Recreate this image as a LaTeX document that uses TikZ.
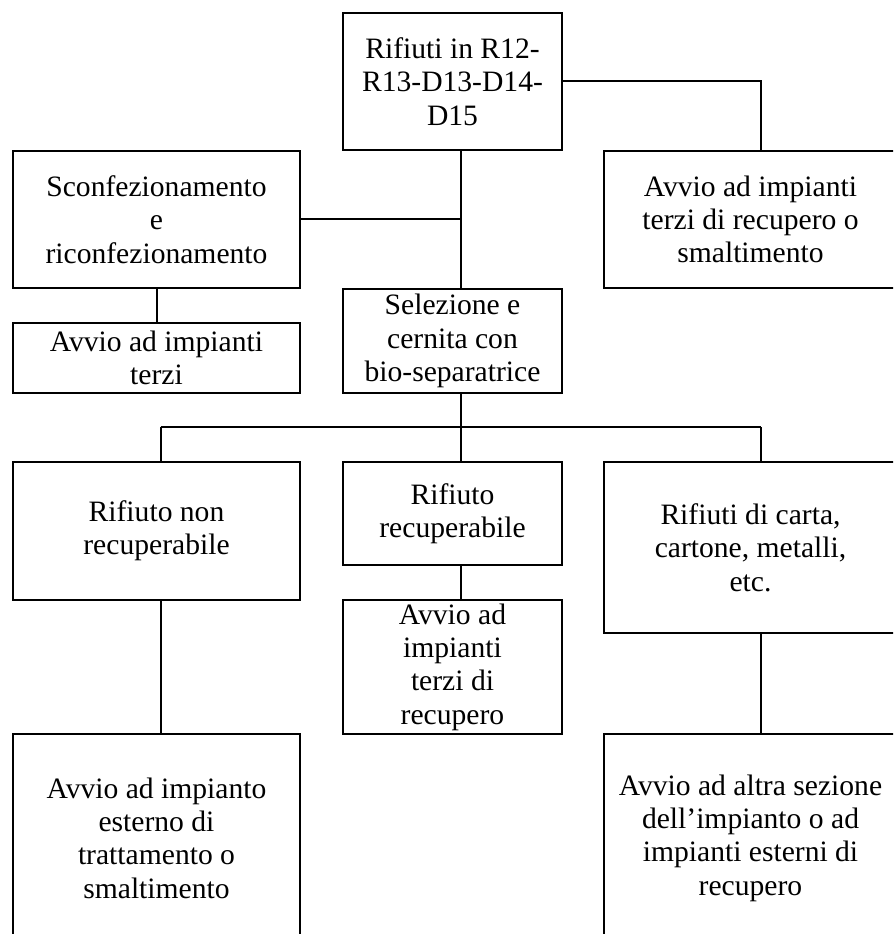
\documentclass[tikz,border=0pt]{standalone}
\usepackage{fontspec}
\setmainfont{Liberation Serif}
\begin{document}
\begin{tikzpicture}[x=0.75pt,y=-0.75pt,
  box/.style={draw, line width=1.5pt, inner sep=0pt, align=center,
    font=\fontsize{22.2}{25}\selectfont},
  conn/.style={line width=1.5pt}]
\useasboundingbox (0,0) rectangle (893,934);
\clip (0,0) rectangle (893,934);
\node[box, minimum width=219*0.75pt, minimum height=137*0.75pt] (top) at (452.5,81.5) {Rifiuti in R12-\\R13-D13-D14-\\D15};
\node[box, minimum width=287*0.75pt, minimum height=137*0.75pt] (sconf) at (156.5,219.5) {Sconfezionamento\\e\\riconfezionamento};
\node[box, minimum width=293*0.75pt, minimum height=137*0.75pt] (terziA) at (750.5,219.5) {Avvio ad impianti\\terzi di recupero o\\smaltimento};
\node[box, minimum width=219*0.75pt, minimum height=104*0.75pt] (sel) at (452.5,341) {Selezione e\\cernita con\\bio-separatrice};
\node[box, minimum width=287*0.75pt, minimum height=70*0.75pt] (terziL) at (156.5,358) {Avvio ad impianti\\terzi};
\node[box, minimum width=287*0.75pt, minimum height=138*0.75pt] (nonrec) at (156.5,531) {Rifiuto non\\recuperabile};
\node[box, minimum width=219*0.75pt, minimum height=103*0.75pt] (rec) at (452.5,513.5) {Rifiuto\\recuperabile};
\node[box, minimum width=293*0.75pt, minimum height=171*0.75pt] (carta) at (750.5,547.5) {Rifiuti di carta,\\cartone, metalli,\\etc.};
\node[box, minimum width=219*0.75pt, minimum height=134*0.75pt] (terziRec) at (452.5,667) {Avvio ad\\impianti\\terzi di\\recupero};
\node[box, minimum width=287*0.75pt, minimum height=208*0.75pt] (esterno) at (156.5,838) {Avvio ad impianto\\esterno di\\trattamento o\\smaltimento};
\node[box, minimum width=293*0.75pt, minimum height=208*0.75pt] (altra) at (750.5,838) {Avvio ad altra sezione\\dell’impianto o ad\\impianti esterni di\\recupero};
\coordinate (cx) at (461,0);
\coordinate (lx) at (160.6,0);
\coordinate (rx) at (760.8,0);
\coordinate (bus) at (461,427);
% connectors
\draw[conn] (top.east) -| (terziA.north -| rx);
\draw[conn] (top.south -| cx) -- (sel.north -| cx);
\draw[conn] (sconf.east) -- (sconf.east -| cx);
\draw[conn] (sconf.south) -- (terziL.north);
\draw[conn] (sel.south -| cx) -- (bus);
\draw[conn] (bus -| lx) -- (bus -| rx);
\draw[conn] (bus -| lx) -- (nonrec.north -| lx);
\draw[conn] (bus) -- (rec.north -| cx);
\draw[conn] (bus -| rx) -- (carta.north -| rx);
\draw[conn] (rec.south -| cx) -- (terziRec.north -| cx);
\draw[conn] (nonrec.south -| lx) -- (esterno.north -| lx);
\draw[conn] (carta.south -| rx) -- (altra.north -| rx);
\end{tikzpicture}
\end{document}
